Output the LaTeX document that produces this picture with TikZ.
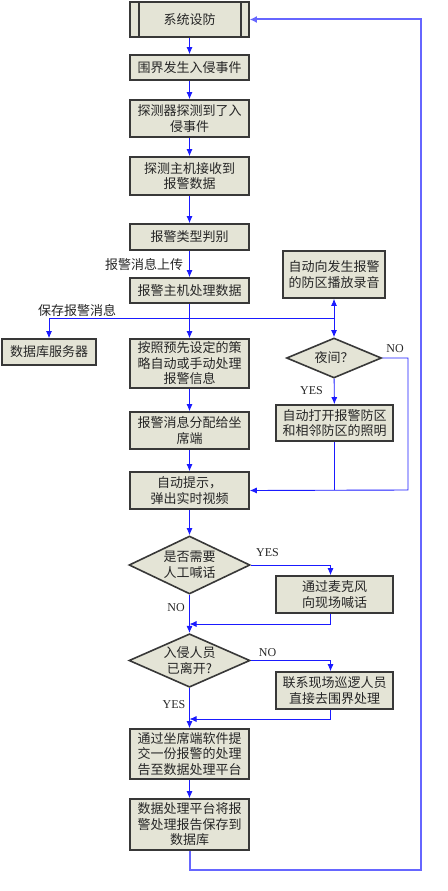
\documentclass[tikz,border=0pt]{standalone}
\usepackage{fontspec}
\setmainfont{Liberation Serif}
\newfontfamily\cjk{Noto Sans CJK SC}
\usetikzlibrary{shapes.geometric,arrows.meta}
\definecolor{boxfill}{HTML}{E4E4D6}
\definecolor{boxline}{HTML}{383838}
\definecolor{flow}{HTML}{1A1AFF}
\definecolor{back}{HTML}{6666FF}

\begin{document}
\begin{tikzpicture}[
  x=1pt, y=-1pt,
  box/.style={rectangle, draw=boxline, line width=1.6pt, fill=boxfill,
    align=center, inner sep=1pt, text=black!85, font={\fontsize{13}{15.5}\cjk}},
  mainbox/.style={box, minimum width=119pt},
  sidebox/.style={box, minimum width=117pt},
  ask/.style={diamond, aspect=2, draw=boxline, line width=1.6pt, fill=boxfill,
    align=center, inner sep=0pt, text=black!85, font={\fontsize{13}{15.5}\cjk}},
  flowline/.style={draw=flow, line width=0.9pt, -{Latex[length=7pt,width=6pt]}},
  joinline/.style={draw=flow, line width=0.9pt},
  backline/.style={draw=back, line width=2pt, -{Latex[length=7pt,width=7pt]}},
  note/.style={font={\fontsize{13}{15.5}\cjk}, text=black!85},
  answer/.style={font={\fontsize{12}{14}\selectfont}, text=black!85}
  ]
  \useasboundingbox (0,0) rectangle (447,891);

  \node[mainbox, minimum height=35pt] (sys) at (189.5,19.5) {系统设防};
  \draw[boxline, line width=1.6pt]
    ([xshift=10pt]sys.north west) -- ([xshift=10pt]sys.south west)
    ([xshift=-9pt]sys.north east) -- ([xshift=-9pt]sys.south east);
  \node[mainbox, minimum height=25pt] (b1) at (189.5,67.5) {围界发生入侵事件};
  \node[mainbox, minimum height=37pt] (b2) at (189.5,118.5) {探测器探测到了入\\侵事件};
  \node[mainbox, minimum height=38pt] (b3) at (189.5,176) {探测主机接收到\\报警数据};
  \node[mainbox, minimum height=26pt] (b4) at (189.5,237) {报警类型判别};
  \node[mainbox, minimum height=25pt] (b5) at (189.5,290.5) {报警主机处理数据};
  \node[mainbox, minimum height=49pt] (b6) at (189.5,363.5) {按照预先设定的策\\略自动或手动处理\\报警信息};
  \node[mainbox, minimum height=37pt] (b7) at (189.5,430.5) {报警消息分配给坐\\席端};
  \node[mainbox, minimum height=37pt] (b8) at (189.5,490.5) {自动提示，\\弹出实时视频};
  \node[ask, minimum width=121pt, minimum height=58pt] (d1) at (189.5,565) {是否需要\\人工喊话};
  \node[ask, minimum width=121pt, minimum height=51pt] (d2) at (189.5,660.5) {入侵人员\\已离开?};
  \node[mainbox, minimum height=50pt] (b9) at (189.5,754) {通过坐席端软件提\\交一份报警的处理\\告至数据处理平台};
  \node[mainbox, minimum height=51pt] (b10) at (189.5,824.5) {数据处理平台将报\\警处理报告保存到\\数据库};

  \node[box, minimum width=94pt, minimum height=26pt] (db) at (49,352) {数据库服务器};
  \node[box, minimum width=102pt, minimum height=47pt] (r1) at (334,274.5) {自动向发生报警\\的防区播放录音};
  \node[ask, minimum width=95pt, minimum height=40pt] (d3) at (334,358) {夜间？};
  \node[sidebox, minimum height=36pt] (r2) at (334.5,423) {自动打开报警防区\\和相邻防区的照明};
  \node[sidebox, minimum height=37pt] (r3) at (334.5,594.5) {通过麦克风\\向现场喊话};
  \node[sidebox, minimum height=37pt] (r4) at (334.5,690.5) {联系现场巡逻人员\\直接去围界处理};

  \node[note] (up) at (144,265) {报警消息上传};
  \node[note] (save) at (77,311) {保存报警消息};
  \node[answer] (no1) at (395,349) {NO};
  \node[answer] (yes1) at (311.5,391) {YES};
  \node[answer] (yes2) at (267.5,553) {YES};
  \node[answer] (no2) at (176,608) {NO};
  \node[answer] (no3) at (267.5,653) {NO};
  \node[answer] (yes3) at (174,705) {YES};

  \coordinate (split) at (189.5,318);
  \coordinate (fork) at (334,318);
  \coordinate (night) at (408,490);
  \coordinate (merge1) at (189.5,624);
  \coordinate (merge2) at (189.5,719);
  \coordinate (turn) at (421,870);

  \draw[flowline] (sys) -- (b1);
  \draw[flowline] (b1) -- (b2);
  \draw[flowline] (b2) -- (b3);
  \draw[flowline] (b3) -- (b4);
  \draw[flowline] (b4) -- (b5);
  \draw[flowline] (b5) -- (b6);
  \draw[flowline] (split) -| (db);
  \draw[joinline] (split) -- (fork);
  \draw[flowline] (fork) -- (r1);
  \draw[flowline] (fork) -- (d3);
  \draw[flowline] (d3) -- (r2);
  \draw[flowline] (d3.east) -| (night) -- (b8.east);
  \draw[joinline] (r2) -- (r2 |- night);
  \draw[flowline] (b6) -- (b7);
  \draw[flowline] (b7) -- (b8);
  \draw[flowline] (b8) -- (d1);
  \draw[flowline] (d1.east) -| ([xshift=-4pt]r3.north);
  \draw[flowline] ([xshift=-4pt]r3.south) |- (merge1);
  \draw[flowline] (d1) -- (d2);
  \draw[flowline] (d2.east) -| ([xshift=-4pt]r4.north);
  \draw[flowline] ([xshift=-4pt]r4.south) |- (merge2);
  \draw[flowline] (d2) -- (b9);
  \draw[flowline] (b9) -- (b10);
  \draw[backline] (b10) |- (turn) |- (sys.east);
\end{tikzpicture}
\end{document}
